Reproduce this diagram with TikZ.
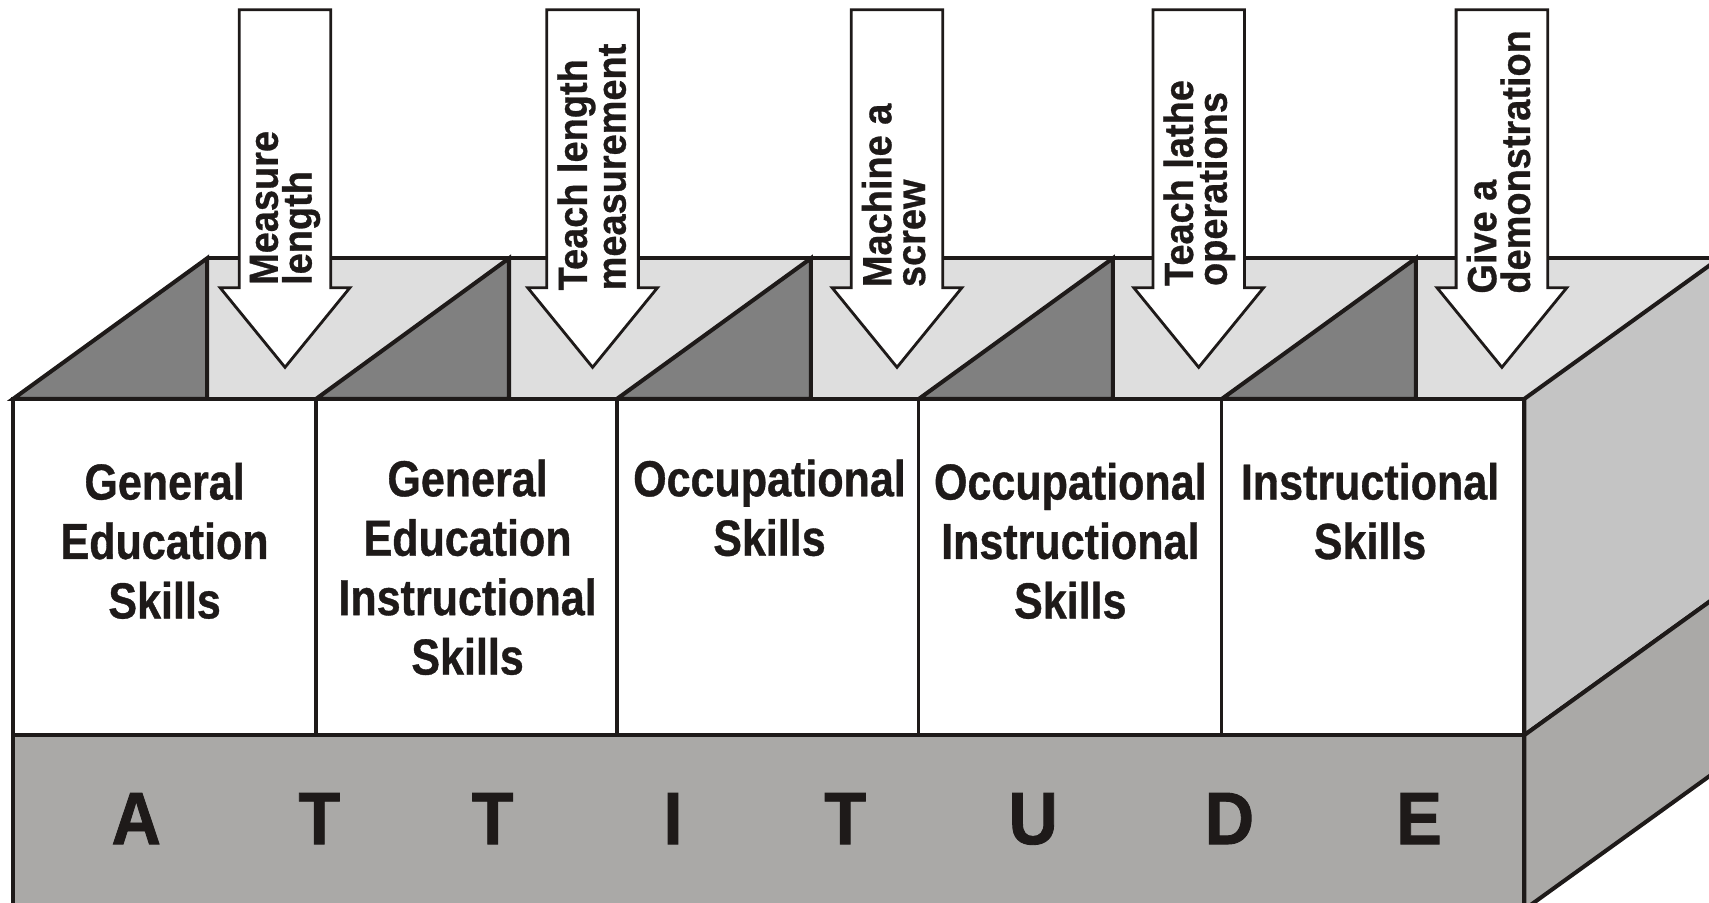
\documentclass[tikz,border=0pt]{standalone}
\usepackage{fontspec}
\setmainfont{Liberation Sans}
\newfontfamily\boxfont[FakeStretch=0.85, BoldFeatures={FakeBold=0.7}]{Liberation Sans}
\newfontfamily\arrowfont[FakeStretch=0.93, BoldFeatures={FakeBold=0.7}]{Liberation Sans}
\newfontfamily\letterfont[FakeStretch=0.92, BoldFeatures={FakeBold=1.2}]{Liberation Sans}
\definecolor{ink}{HTML}{1E1A19}
\definecolor{backc}{HTML}{DEDEDE}
\definecolor{darkc}{HTML}{808080}
\definecolor{sidec}{HTML}{C4C4C4}
\definecolor{bandc}{HTML}{AAA9A7}
\tikzset{
  edge/.style={draw=ink, line width=1.15pt, line join=miter},
  divider/.style={draw=ink, line width=0.95pt},
  arrowshape/.style={draw=ink, fill=white, line width=0.8pt, line join=miter},
  arrowtext/.style={rotate=90, align=left, inner sep=0pt, anchor=north west, text=ink,
    font=\arrowfont\bfseries\fontsize{11.6}{9.6}\selectfont},
  boxtext/.style={align=center, inner sep=0pt, anchor=north, text=ink,
    font=\boxfont\bfseries\fontsize{14.4}{16.9}\selectfont},
  attletter/.style={inner sep=0pt, anchor=base, text=ink,
    font=\letterfont\bfseries\fontsize{21.1}{21.1}\selectfont}
}
\begin{document}
\begin{tikzpicture}[x=0.010899cm, y=-0.010899cm]
\useasboundingbox (0,0) rectangle (1568,828);
\clip (0,0) rectangle (1568,828);
% back wall
\fill[backc] (190,237) rectangle (1600,366);
\draw[edge] (190,237) -- (1600,237);
% compartment side walls
\foreach \f/\b in {12/190, 290/467, 566/744, 843/1021, 1121/1299}
  \draw[edge, fill=darkc] (\f,366) -- (\b,237) -- (\b,366) -- cycle;
% right side faces
\draw[edge, fill=sidec] (1398.5,366) -- ++(179,-129) -- ++(0,308.5) -- (1398.5,674.5) -- cycle;
\draw[edge, fill=bandc] (1398.5,674.5) -- ++(179,-129) -- ++(0,160) -- (1398.5,834.5) -- cycle;
% arrows
\foreach \c in {261.5, 543.7, 823, 1099.8, 1378}
  \draw[arrowshape] (\c-42,9) -- (\c+42,9) -- (\c+42,264) -- (\c+59.5,264)
    -- (\c,337) -- (\c-59.5,264) -- (\c-42,264) -- cycle;
\node[arrowtext] (t1) at (261.5-33,262) {Measure\\length};
\node[arrowtext] (t2) at (543.7-33,267) {Teach length\\measurement};
\node[arrowtext] (t3) at (823-33,264) {Machine a\\screw};
\node[arrowtext] (t4) at (1099.8-33,263) {Teach lathe\\operations};
\node[arrowtext] (t5) at (1378-33,270) {Give a\\demonstration};
% front box
\draw[edge, fill=white] (12,366) rectangle (1398.5,674.5);
\draw[edge, fill=bandc] (12,674.5) rectangle (1398.5,834.5);
\foreach \x in {290,566,843,1121}
  \draw[divider] (\x,366) -- (\x,674.5);
% skill labels
\node[boxtext] (s1) at (151,424) {General\\Education\\Skills};
\node[boxtext] (s2) at (429,421) {General\\Education\\Instructional\\Skills};
\node[boxtext] (s3) at (706,421) {Occupational\\Skills};
\node[boxtext] (s4) at (982,424) {Occupational\\Instructional\\Skills};
\node[boxtext] (s5) at (1257,424) {Instructional\\Skills};
% ATTITUDE
\foreach \x/\l [count=\i] in {125/A,293/T,452/T,617.5/I,775.5/T,948/U,1128/D,1302/E}
  \node[attletter] (a\i) at (\x,774.4) {\l};
\end{tikzpicture}
\end{document}
